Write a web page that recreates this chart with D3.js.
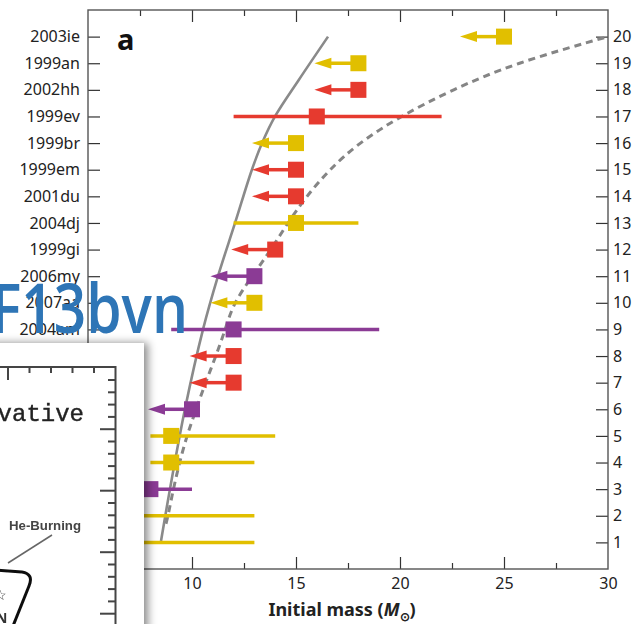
<!DOCTYPE html>
<html>
<head>
<meta charset="utf-8">
<script src="https://cdn.jsdelivr.net/npm/d3@7"></script>
<style>
  body { margin: 0; background: #fff; }
  svg { display: block; font-family: "Noto Sans", sans-serif; }
</style>
</head>
<body>
<svg id="chart" width="633" height="624"></svg>
<script>
// supernova names, bottom (1) to top (20)
const names = ["2003gd", "2005cs", "2008bk", "2004A", "2004et", "2006ov", "2006bc", "2004dg",
  "2004am", "2007aa", "2006my", "1999gi", "2004dj", "2001du", "1999em", "1999br",
  "1999ev", "2002hh", "1999an", "2003ie"];
const rows = d3.range(1, 21);
const masses = [7, 7, 8, 9, 9, 10, 12, 12, 12, 13, 13, 14, 15, 15, 15, 15, 16, 18, 18, 25];
const lowMass = [6, 6, 6, 8, 8, null, null, null, 9, null, null, null, 12, null, null, null, 12, null, null, null];
const highMass = [13, 13, 10, 13, 14, null, null, null, 19, null, null, null, 18, null, null, null, 22, null, null, null];
const isLimit = [0, 0, 0, 0, 0, 1, 1, 1, 0, 1, 1, 1, 0, 1, 1, 1, 0, 1, 1, 1];
const groups = ["Y", "Y", "P", "Y", "Y", "P", "R", "R", "P", "Y", "P", "R", "Y", "R", "R", "Y", "R", "R", "Y", "Y"];

// model curves
const solidMass = [8.51, 8.94, 9.66, 10.53, 11.25, 12.07, 12.88, 13.37, 13.99, 15.14, 16.54];
const solidRow = [1.05, 3, 6, 9, 11, 13, 15, 16, 17, 18.38, 20.0];
const dashMass = [8.75, 8.85, 9.1, 9.4, 9.75, 10.2, 10.65, 11.15, 11.6, 12.0, 12.9, 13.8, 14.6, 15.5, 16.6, 18.0, 20.0, 22.5, 25.5, 30];
const dashRow = [1.7, 2, 3, 4, 5, 6, 7, 8, 9, 10, 11, 12, 13, 14, 15, 16, 17, 18, 19, 20];

const xMajor = [10, 15, 20, 25];
const xMinor = [7.5, 12.5, 17.5, 22.5, 27.5];
const xLabels = [10, 15, 20, 25, 30];

const colors = { Y: "#e1bf00", R: "#e63a2f", P: "#8b3b95" };

const svg = d3.select("#chart");
const x = d3.scaleLinear().domain([5, 30]).range([88, 608]);
const y = d3.scaleLinear().domain([0, 21]).range([569, 10]);

const data = rows.map((r, i) => ({
  row: r, name: names[i], mass: masses[i], lo: lowMass[i], hi: highMass[i],
  limit: isLimit[i], color: colors[groups[i]]
}));

// axes
function styleAxis(g) {
  g.select(".domain").remove();
  g.selectAll(".tick line").attr("stroke", "#333").attr("stroke-width", 1.2);
  g.selectAll(".tick text").attr("fill", "#222").style("font-size", "16px")
    .style("font-family", "'Noto Sans', sans-serif");
}

svg.append("g").attr("transform", "translate(0,569)")
  .call(d3.axisBottom(x).tickValues(xMajor).tickSize(-12).tickFormat(""))
  .call(styleAxis);
svg.append("g").attr("transform", "translate(0,569)")
  .call(d3.axisBottom(x).tickValues(xMinor).tickSize(-6).tickFormat(""))
  .call(styleAxis);
svg.append("g").attr("transform", "translate(0,10)")
  .call(d3.axisTop(x).tickValues(xMajor).tickSize(-12).tickFormat(""))
  .call(styleAxis);
svg.append("g").attr("transform", "translate(0,10)")
  .call(d3.axisTop(x).tickValues(xMinor).tickSize(-6).tickFormat(""))
  .call(styleAxis);
svg.append("g").attr("transform", "translate(0,569)")
  .call(d3.axisBottom(x).tickValues(xLabels).tickSize(0).tickPadding(9).tickFormat(d3.format("d")))
  .call(styleAxis);

svg.append("g").attr("transform", "translate(88,0)")
  .call(d3.axisLeft(y).tickValues(rows).tickSize(-12).tickPadding(8).tickFormat(d => names[d - 1]))
  .call(styleAxis);
svg.append("g").attr("transform", "translate(608,0)")
  .call(d3.axisRight(y).tickValues(rows).tickSize(-12).tickPadding(5))
  .call(styleAxis);

svg.append("rect")
  .attr("x", x(5)).attr("y", y(21))
  .attr("width", x(30) - x(5)).attr("height", y(0) - y(21))
  .attr("fill", "none").attr("stroke", "#555").attr("stroke-width", 1.4);

// curves
const solidLine = d3.line().x(d => x(d[0])).y(d => y(d[1])).curve(d3.curveCatmullRom);
const dashLine = d3.line().x(d => x(d[0])).y(d => y(d[1])).curve(d3.curveBasis);
svg.append("path")
  .attr("d", solidLine(solidMass.map((m, i) => [m, solidRow[i]])))
  .attr("fill", "none").attr("stroke", "#8a8a8a").attr("stroke-width", 2.6);
svg.append("path")
  .attr("d", dashLine(dashMass.map((m, i) => [m, dashRow[i]])))
  .attr("fill", "none").attr("stroke", "#858585").attr("stroke-width", 3)
  .attr("stroke-dasharray", "7,5");

// error bars
svg.append("g").selectAll("line")
  .data(data.filter(d => d.lo != null))
  .join("line")
  .attr("x1", d => x(d.lo)).attr("x2", d => x(d.hi))
  .attr("y1", d => y(d.row)).attr("y2", d => y(d.row))
  .attr("stroke", d => d.color).attr("stroke-width", 3.5);

// upper-limit arrows
const arrowLen = 44, headLen = 17, headHalf = 5.5;
const lim = svg.append("g").selectAll("g")
  .data(data.filter(d => d.limit))
  .join("g");
lim.append("line")
  .attr("x1", d => x(d.mass)).attr("x2", d => x(d.mass) - arrowLen + headLen - 1)
  .attr("y1", d => y(d.row)).attr("y2", d => y(d.row))
  .attr("stroke", d => d.color).attr("stroke-width", 3.5);
lim.append("path")
  .attr("d", d => {
    const tx = x(d.mass) - arrowLen, ty = y(d.row);
    return `M${tx},${ty}L${tx + headLen},${ty - headHalf}L${tx + headLen},${ty + headHalf}Z`;
  })
  .attr("fill", d => d.color);

// squares
svg.append("g").selectAll("rect")
  .data(data)
  .join("rect")
  .attr("x", d => x(d.mass) - 8).attr("y", d => y(d.row) - 8)
  .attr("width", 16).attr("height", 16)
  .attr("fill", d => d.color);

// panel letter and axis title
svg.append("text").attr("x", 117).attr("y", 50)
  .style("font-size", "29px").style("font-weight", "bold").attr("fill", "#111").text("a");

const title = svg.append("text").attr("x", 342).attr("y", 616).attr("text-anchor", "middle")
  .style("font-size", "18px").style("font-weight", "bold").attr("fill", "#222");
title.append("tspan").text("Initial mass (");
title.append("tspan").style("font-style", "italic").text("M");
title.append("tspan").attr("dy", 5).style("font-size", "12px").text("⊙");
title.append("tspan").attr("dy", -5).text(")");

// pasted inset from another figure
const defs = svg.append("defs");
const shadow = defs.append("filter").attr("id", "shadow")
  .attr("x", "-20%").attr("y", "-20%").attr("width", "150%").attr("height", "150%");
shadow.append("feDropShadow").attr("dx", 4).attr("dy", 0).attr("stdDeviation", 4)
  .attr("flood-color", "#000").attr("flood-opacity", 0.45);
defs.append("filter").attr("id", "soft").append("feGaussianBlur").attr("stdDeviation", 0.45);

const inset = svg.append("g");
inset.append("rect").attr("x", -30).attr("y", 343).attr("width", 174).attr("height", 320)
  .attr("fill", "#fff").attr("filter", "url(#shadow)");

const ins = inset.append("g").attr("filter", "url(#soft)");
const ix = d3.scaleLinear().domain([0, 5]).range([8, 115.5]);
const iy = d3.scaleLinear().domain([0, 20]).range([380, 626]);
const insetTop = [0, 1, 2, 3, 4];
const insetRight = d3.range(0, 21);

ins.append("path").attr("d", `M-5,367H115.5V640`)
  .attr("fill", "none").attr("stroke", "#444").attr("stroke-width", 2);
ins.append("g").selectAll("line")
  .data(insetTop).join("line")
  .attr("x1", d => ix(d)).attr("x2", d => ix(d))
  .attr("y1", 367).attr("y2", d => d === 0 ? 380 : 373)
  .attr("stroke", "#444").attr("stroke-width", 2);
ins.append("g").selectAll("line")
  .data(insetRight).join("line")
  .attr("y1", d => iy(d)).attr("y2", d => iy(d))
  .attr("x1", 115.5).attr("x2", d => (d % 5 === 4 ? 100 : 108))
  .attr("stroke", "#444").attr("stroke-width", 2);

ins.append("text").attr("x", 84).attr("y", 421).attr("text-anchor", "end")
  .style("font-family", "'Liberation Mono', monospace").style("font-size", "24px")
  .attr("fill", "#222").attr("stroke", "#222").attr("stroke-width", 0.4).text("Conservative");
ins.append("text").attr("x", 9).attr("y", 530)
  .attr("textLength", 72).attr("lengthAdjust", "spacingAndGlyphs")
  .style("font-size", "13px").style("font-weight", "bold")
  .style("font-family", "'Liberation Sans', sans-serif").attr("fill", "#444").text("He-Burning");
ins.append("line").attr("x1", 52).attr("y1", 535).attr("x2", 8).attr("y2", 563)
  .attr("stroke", "#666").attr("stroke-width", 1.5);
ins.append("path").attr("d", "M-5,570L22,572Q34,574 29,586L13,626")
  .attr("fill", "none").attr("stroke", "#111").attr("stroke-width", 3);
ins.append("text").attr("x", -6).attr("y", 600).style("font-size", "14px").attr("fill", "#333").text("☆");
ins.append("text").attr("x", -4).attr("y", 623).style("font-size", "14px").style("font-weight", "bold")
  .attr("fill", "#333").text("N");

// overlaid label
svg.append("text").attr("x", -9).attr("y", 333)
  .attr("textLength", 197).attr("lengthAdjust", "spacingAndGlyphs")
  .style("font-size", "68px").style("font-weight", "600").style("font-family", "'Open Sans', sans-serif")
  .attr("fill", "#2e75b6").text("F13bvn");
</script>
</body>
</html>
